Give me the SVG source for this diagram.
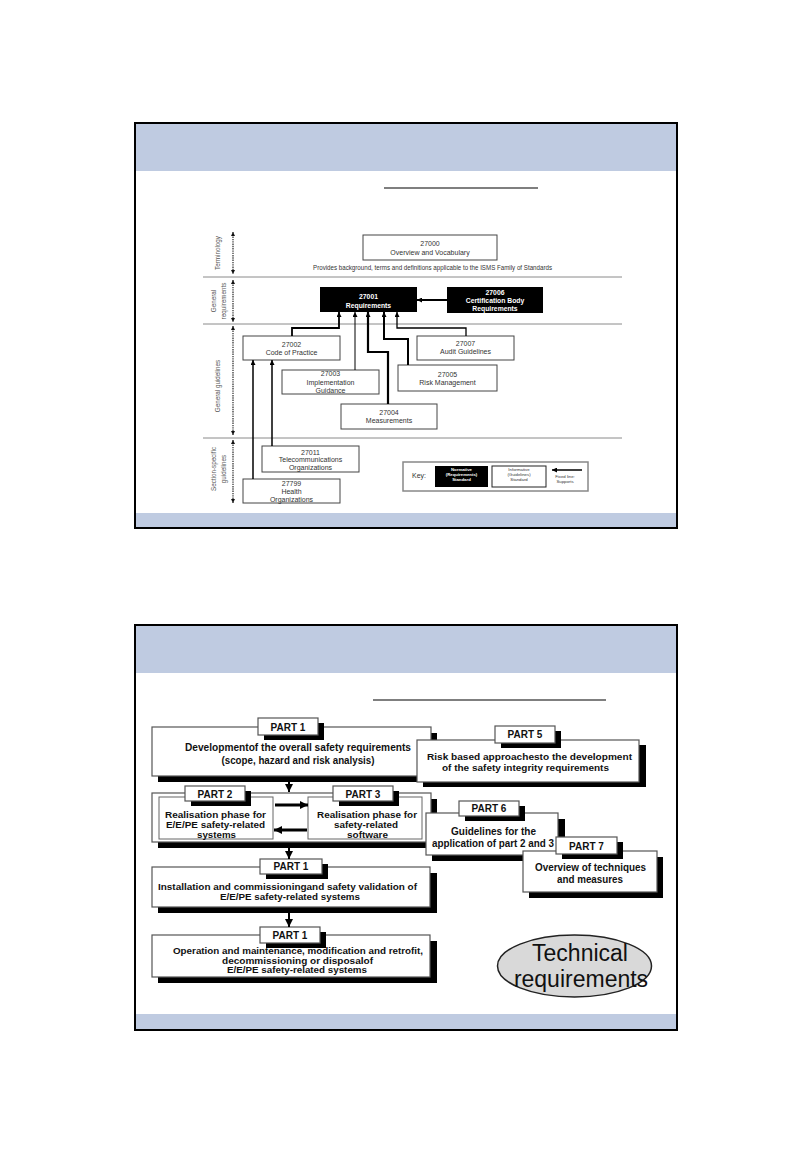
<svg xmlns="http://www.w3.org/2000/svg" width="810" height="1155" viewBox="0 0 810 1155">
<defs>
<style>
.slide{fill:#fff;stroke:#000;stroke-width:2}
.band{fill:#BFCBE1}
.ul{stroke:#555;stroke-width:1.6}
.div{stroke:#8a8a8a;stroke-width:1}
.wbox{fill:#fff;stroke:#444;stroke-width:1}
.bbox{fill:#000}
.t{font-family:"Liberation Sans",Arial,sans-serif;fill:#333;text-anchor:middle;font-size:7px}
.tw{font-family:"Liberation Sans",Arial,sans-serif;fill:#fff;text-anchor:middle;font-size:6.8px;font-weight:bold}
.lab{font-family:"Liberation Sans",Arial,sans-serif;fill:#555;text-anchor:middle;font-size:6.3px}
.k{font-family:"Liberation Sans",Arial,sans-serif;text-anchor:middle;font-size:4.3px}
.c{fill:none;stroke:#000}
.dot{fill:none;stroke:#111;stroke-width:1.1;stroke-dasharray:1.4 0.9}
.sh{fill:#000}
.pb{fill:#fff;stroke:#555;stroke-width:1.2}
.ib{fill:#fff;stroke:#666;stroke-width:1}
.pt{font-family:"Liberation Sans",Arial,sans-serif;font-weight:bold;font-size:10px;fill:#111;text-anchor:middle}
.bt{font-family:"Liberation Sans",Arial,sans-serif;font-weight:bold;font-size:10px;fill:#111;text-anchor:middle}
.bs{font-family:"Liberation Sans",Arial,sans-serif;font-weight:bold;font-size:8.6px;fill:#111;text-anchor:middle}
</style>
<marker id="a" viewBox="0 0 10 10" refX="10" refY="5" markerWidth="5" markerHeight="5" markerUnits="userSpaceOnUse" orient="auto"><path d="M0,0 L10,5 L0,10 z" fill="#000"/></marker>
<marker id="as" viewBox="0 0 10 10" refX="10" refY="5" markerWidth="4" markerHeight="4" markerUnits="userSpaceOnUse" orient="auto-start-reverse"><path d="M0,0 L10,5 L0,10 z" fill="#111"/></marker>
<marker id="ab" viewBox="0 0 10 10" refX="10" refY="5" markerWidth="8" markerHeight="8" markerUnits="userSpaceOnUse" orient="auto"><path d="M0,0 L10,5 L0,10 z" fill="#000"/></marker>
</defs>

<!-- ===== Top slide ===== -->
<g id="slide1">
<rect class="slide" x="135" y="123" width="542" height="405"/>
<rect class="band" x="136" y="124" width="540" height="47"/>
<rect class="band" x="136" y="513" width="540" height="14"/>
<line class="ul" x1="384" y1="188" x2="538" y2="188"/>
<line class="div" x1="203" y1="277" x2="622" y2="277"/>
<line class="div" x1="203" y1="324" x2="622" y2="324"/>
<line class="div" x1="203" y1="438" x2="622" y2="438"/>
</g>

<g id="axis">
<text class="lab" transform="translate(219.5,253) rotate(-90)">Terminology</text>
<text class="lab" transform="translate(215.5,301) rotate(-90)">General</text>
<text class="lab" transform="translate(225.5,301) rotate(-90)">requirements</text>
<text class="lab" transform="translate(219.5,386) rotate(-90)">General guidelines</text>
<text class="lab" transform="translate(216,469) rotate(-90)">Section-specific</text>
<text class="lab" transform="translate(226,469) rotate(-90)">guidelines</text>
<line class="dot" x1="233" y1="232" x2="233" y2="274" marker-start="url(#as)" marker-end="url(#as)"/>
<line class="dot" x1="233" y1="280" x2="233" y2="322" marker-start="url(#as)" marker-end="url(#as)"/>
<line class="dot" x1="233" y1="326" x2="233" y2="435" marker-start="url(#as)" marker-end="url(#as)"/>
<line class="dot" x1="233" y1="440" x2="233" y2="503" marker-start="url(#as)" marker-end="url(#as)"/>
</g>

<g id="n27000">
<rect class="wbox" x="363" y="235" width="134" height="25"/>
<text class="t" x="430" y="245.5">27000</text>
<text class="t" x="430" y="255">Overview and Vocabulary</text>
<text class="t" x="432.5" y="269.5" font-size="6.2" textLength="239" lengthAdjust="spacingAndGlyphs">Provides background, terms and definitions applicable to the ISMS Family of Standards</text>
</g>
<g id="n27001">
<rect class="bbox" x="320" y="287" width="97" height="25"/>
<text class="tw" x="368.5" y="298.5">27001</text>
<text class="tw" x="368.5" y="308">Requirements</text>
</g>
<g id="n27006">
<rect class="bbox" x="447" y="287" width="96" height="26"/>
<text class="tw" x="495" y="294.5">27006</text>
<text class="tw" x="495" y="302.5">Certification Body</text>
<text class="tw" x="495" y="310.5">Requirements</text>
</g>
<g id="n27002">
<rect class="wbox" x="243" y="336" width="97" height="24"/>
<text class="t" x="291.5" y="346.5">27002</text>
<text class="t" x="291.5" y="354.5">Code of Practice</text>
</g>
<g id="n27007">
<rect class="wbox" x="417" y="336" width="97" height="24"/>
<text class="t" x="465.5" y="345.5">27007</text>
<text class="t" x="465.5" y="353.5">Audit Guidelines</text>
</g>
<g id="n27003">
<rect class="wbox" x="282" y="370" width="97" height="24"/>
<text class="t" x="330.5" y="376">27003</text>
<text class="t" x="330.5" y="384.5">Implementation</text>
<text class="t" x="330.5" y="392.5">Guidance</text>
</g>
<g id="n27005">
<rect class="wbox" x="398" y="365" width="99" height="26"/>
<text class="t" x="447.5" y="376.5">27005</text>
<text class="t" x="447.5" y="384.5">Risk Management</text>
</g>
<g id="n27004">
<rect class="wbox" x="341" y="404" width="96" height="25"/>
<text class="t" x="389" y="414.5">27004</text>
<text class="t" x="389" y="422.5">Measurements</text>
</g>
<g id="n27011">
<rect class="wbox" x="262" y="446" width="97" height="26"/>
<text class="t" x="310.5" y="454.5">27011</text>
<text class="t" x="310.5" y="461.5">Telecommunications</text>
<text class="t" x="310.5" y="469.5">Organizations</text>
</g>
<g id="n27799">
<rect class="wbox" x="243" y="479" width="97" height="24"/>
<text class="t" x="291.5" y="485.5">27799</text>
<text class="t" x="291.5" y="493.5">Health</text>
<text class="t" x="291.5" y="501.5">Organizations</text>
</g>
<g id="key">
<rect x="403" y="462" width="185" height="29" fill="#fff" stroke="#888" stroke-width="1.5"/>
<text class="t" x="419" y="478" font-size="6">Key:</text>
<rect x="435" y="466" width="53" height="21" fill="#000"/>
<text class="k" x="461.5" y="470.5" fill="#fff" font-weight="bold">Normative</text>
<text class="k" x="461.5" y="475.5" fill="#fff" font-weight="bold">(Requirements)</text>
<text class="k" x="461.5" y="481" fill="#fff" font-weight="bold">Standard</text>
<rect x="492" y="466" width="54" height="21" fill="#fff" stroke="#222" stroke-width="1"/>
<text class="k" x="519" y="470.5" fill="#333">Informative</text>
<text class="k" x="519" y="475.5" fill="#333">(Guidelines)</text>
<text class="k" x="519" y="481" fill="#333">Standard</text>
<line class="c" x1="582" y1="470" x2="552" y2="470" stroke-width="1.5" marker-end="url(#a)"/>
<text class="k" x="565" y="478" fill="#333" font-size="3.8">Fixed line:</text>
<text class="k" x="565" y="483" fill="#333" font-size="3.8">Supports</text>
</g>

<g id="connectors-top">
<line class="c" x1="447" y1="300" x2="417" y2="300" stroke-width="2" marker-end="url(#a)"/>
<path class="c" d="M292,336 V328 H339 V312" stroke-width="1.8" marker-end="url(#a)"/>
<path class="c" d="M355,370 V312" stroke-width="1" marker-end="url(#a)"/>
<path class="c" d="M388,404 V352 H368 V312" stroke-width="2.2" marker-end="url(#a)"/>
<path class="c" d="M408,365 V339 H384 V312" stroke-width="2" marker-end="url(#a)"/>
<path class="c" d="M466,336 V328 H397 V312" stroke-width="1.3" marker-end="url(#a)"/>
<path class="c" d="M253,479 V360" stroke-width="1.5" marker-end="url(#a)"/>
<path class="c" d="M272,446 V360" stroke-width="1.5" marker-end="url(#a)"/>
</g>

<!-- ===== Bottom slide ===== -->
<g id="slide2">
<rect class="slide" x="135" y="625" width="542" height="405"/>
<rect class="band" x="136" y="626" width="540" height="47"/>
<rect class="band" x="136" y="1014" width="540" height="15"/>
<line class="ul" x1="373" y1="700" x2="606" y2="700"/>
</g>

<g id="part1a">
<rect class="sh" x="158" y="733" width="279" height="49"/>
<rect class="pb" x="152" y="727" width="279" height="49"/>
<rect class="sh" x="264" y="723" width="60" height="17"/>
<rect class="pb" x="258" y="718" width="60" height="17"/>
<text class="pt" x="288" y="730.5">PART 1</text>
<text class="bt" x="298" y="750.5" textLength="226" lengthAdjust="spacingAndGlyphs">Developmentof the overall safety requirements</text>
<text class="bt" x="298" y="764" textLength="153" lengthAdjust="spacingAndGlyphs">(scope, hazard and risk analysis)</text>
</g>

<g id="part23">
<rect class="sh" x="158" y="799" width="279" height="49"/>
<rect class="pb" x="152" y="793" width="279" height="49"/>
<rect class="ib" x="159" y="797" width="114" height="42"/>
<rect class="ib" x="308" y="797" width="114" height="42"/>
<rect class="sh" x="191" y="791" width="60" height="15"/>
<rect class="pb" x="185" y="786" width="60" height="15"/>
<text class="pt" x="215" y="797.5">PART 2</text>
<rect class="sh" x="339" y="791" width="60" height="15"/>
<rect class="pb" x="333" y="786" width="60" height="15"/>
<text class="pt" x="363" y="797.5">PART 3</text>
<text class="bs" x="215.5" y="818" textLength="101" lengthAdjust="spacingAndGlyphs">Realisation phase for</text>
<text class="bs" x="215.5" y="828" textLength="99" lengthAdjust="spacingAndGlyphs">E/E/PE safety-related</text>
<text class="bs" x="216.5" y="838" textLength="39" lengthAdjust="spacingAndGlyphs">systems</text>
<text class="bs" x="367" y="818" textLength="100" lengthAdjust="spacingAndGlyphs">Realisation phase for</text>
<text class="bs" x="366" y="828" textLength="64" lengthAdjust="spacingAndGlyphs">safety-related</text>
<text class="bs" x="367.5" y="838" textLength="41" lengthAdjust="spacingAndGlyphs">software</text>
</g>

<g id="part1b">
<rect class="sh" x="158" y="873" width="279" height="40"/>
<rect class="pb" x="152" y="867" width="278" height="40"/>
<rect class="sh" x="266" y="864" width="62" height="15"/>
<rect class="pb" x="260" y="859" width="62" height="15"/>
<text class="pt" x="291" y="870">PART 1</text>
<text class="bs" x="287.5" y="889.5" textLength="259" lengthAdjust="spacingAndGlyphs">Installation and commissioningand safety validation of</text>
<text class="bs" x="290" y="899.5" textLength="140" lengthAdjust="spacingAndGlyphs">E/E/PE safety-related systems</text>
</g>

<g id="part1c">
<rect class="sh" x="158" y="941" width="279" height="42"/>
<rect class="pb" x="152" y="935" width="278" height="42"/>
<rect class="sh" x="266" y="932" width="60" height="16"/>
<rect class="pb" x="260" y="927" width="60" height="16"/>
<text class="pt" x="290" y="939">PART 1</text>
<text class="bs" x="298" y="954" font-size="8.3" textLength="250" lengthAdjust="spacingAndGlyphs">Operation and maintenance, modification and retrofit,</text>
<text class="bs" x="297.5" y="963.5" font-size="8.3" textLength="151" lengthAdjust="spacingAndGlyphs">decommissioning or disposalof</text>
<text class="bs" x="297" y="973" font-size="8.3" textLength="140" lengthAdjust="spacingAndGlyphs">E/E/PE safety-related systems</text>
</g>

<g id="part5">
<rect class="sh" x="423" y="745" width="223" height="42"/>
<rect class="pb" x="417" y="740" width="222" height="42"/>
<rect class="sh" x="501" y="731" width="60" height="17"/>
<rect class="pb" x="495" y="726" width="60" height="17"/>
<text class="pt" x="525" y="738">PART 5</text>
<text class="bs" x="529.5" y="760" font-size="9.5" textLength="205" lengthAdjust="spacingAndGlyphs">Risk based approachesto the development</text>
<text class="bs" x="525.5" y="771" font-size="9.5" textLength="167" lengthAdjust="spacingAndGlyphs">of the safety integrity requirements</text>
</g>

<g id="part6">
<rect class="sh" x="432" y="819" width="133" height="42"/>
<rect class="pb" x="426" y="813" width="132" height="42"/>
<rect class="sh" x="465" y="806" width="60" height="15"/>
<rect class="pb" x="459" y="801" width="60" height="15"/>
<text class="pt" x="489" y="812">PART 6</text>
<text class="bt" x="493.5" y="835" textLength="85" lengthAdjust="spacingAndGlyphs">Guidelines for the</text>
<text class="bt" x="493" y="847" textLength="122" lengthAdjust="spacingAndGlyphs">application of part 2 and 3</text>
</g>

<g id="part7">
<rect class="sh" x="529" y="857" width="134" height="41"/>
<rect class="pb" x="523" y="851" width="134" height="41"/>
<rect class="sh" x="562" y="842" width="61" height="17"/>
<rect class="pb" x="556" y="837" width="61" height="17"/>
<text class="pt" x="586.5" y="849.5">PART 7</text>
<text class="bt" x="590.5" y="871" textLength="111" lengthAdjust="spacingAndGlyphs">Overview of techniques</text>
<text class="bt" x="590" y="883" textLength="66" lengthAdjust="spacingAndGlyphs">and measures</text>
</g>

<g id="techreq">
<ellipse cx="574.5" cy="966" rx="77" ry="31" fill="#D9D9D9" stroke="#222" stroke-width="1.5"/>
<text x="580" y="961" font-family="'Liberation Sans',Arial,sans-serif" font-size="23" fill="#111" text-anchor="middle">Technical</text>
<text x="581" y="987" font-family="'Liberation Sans',Arial,sans-serif" font-size="23" fill="#111" text-anchor="middle">requirements</text>
</g>

<g id="connectors-bottom">
<line class="c" x1="289" y1="782" x2="289" y2="792" stroke-width="2" marker-end="url(#ab)"/>
<line class="c" x1="289" y1="848" x2="289" y2="859" stroke-width="2" marker-end="url(#ab)"/>
<line class="c" x1="289" y1="913" x2="289" y2="927" stroke-width="2" marker-end="url(#ab)"/>
<line class="c" x1="275" y1="805" x2="308" y2="805" stroke-width="3" marker-end="url(#ab)"/>
<line class="c" x1="307" y1="830" x2="274" y2="830" stroke-width="3" marker-end="url(#ab)"/>
</g>
</svg>
